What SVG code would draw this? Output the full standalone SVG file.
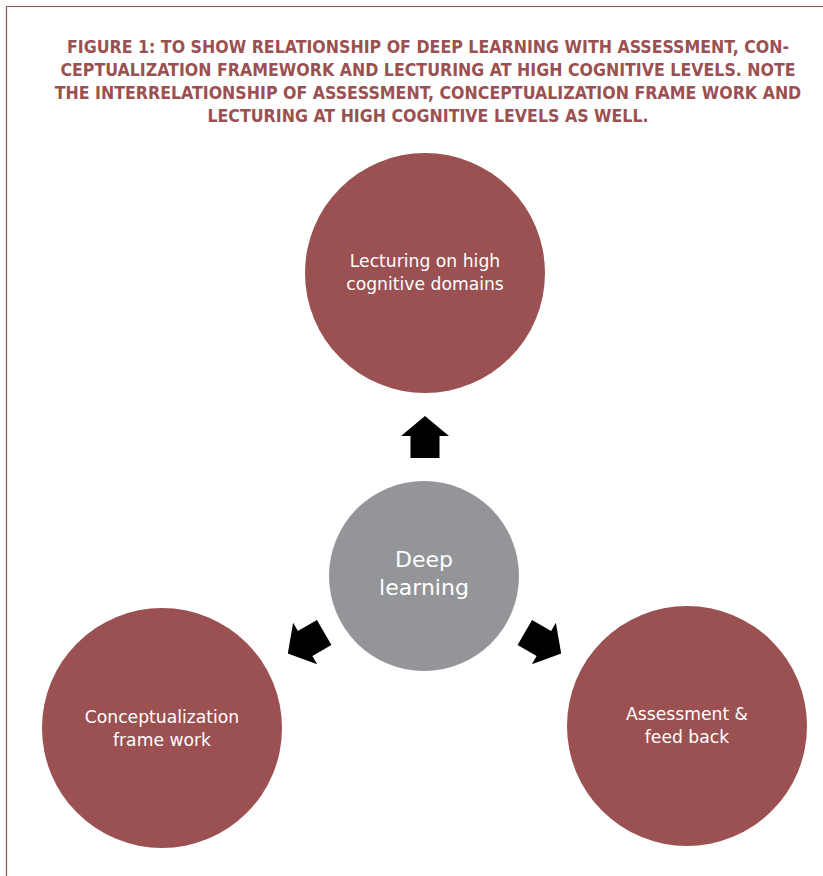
<svg xmlns="http://www.w3.org/2000/svg" width="823" height="876" viewBox="0 0 823 876">
  <style>
    .title { font-family: "DejaVu Sans Condensed", "DejaVu Sans", sans-serif; font-weight: bold; font-size: 17.6px; fill: #9b5052; text-anchor: middle; }
    .lbl { font-family: "DejaVu Sans", sans-serif; font-size: 17.2px; fill: #ffffff; text-anchor: middle; }
    .big { font-family: "DejaVu Sans", sans-serif; font-size: 22px; fill: #ffffff; text-anchor: middle; }
    .red { fill: #9b5051; }
    .grey { fill: #939598; }
    .arrow { fill: #000000; }
  </style>
  <defs>
    <path id="blockArrow" d="M0,-21 L24,-1 L14.5,-1 L14.5,21 L-14.5,21 L-14.5,-1 L-24,-1 Z"/>
  </defs>
  <rect width="823" height="876" fill="#ffffff"/>
  <!-- frame -->
  <path d="M6.5,876 L6.5,6.5 L823,6.5" fill="none" stroke="#9b5052" stroke-width="1.2"/>

  <g id="title">
    <text class="title" x="428" y="53">FIGURE 1: TO SHOW RELATIONSHIP OF DEEP LEARNING WITH ASSESSMENT, CON-</text>
    <text class="title" x="428" y="76">CEPTUALIZATION FRAMEWORK AND LECTURING AT HIGH COGNITIVE LEVELS. NOTE</text>
    <text class="title" x="428" y="99">THE INTERRELATIONSHIP OF ASSESSMENT, CONCEPTUALIZATION FRAME WORK AND</text>
    <text class="title" x="428" y="122">LECTURING AT HIGH COGNITIVE LEVELS AS WELL.</text>
  </g>

  <g id="lecturing">
    <circle class="red" cx="425" cy="273" r="120"/>
    <text class="lbl" x="425" y="267">Lecturing on high</text>
    <text class="lbl" x="425" y="290">cognitive domains</text>
  </g>

  <g id="deep-learning">
    <circle class="grey" cx="424" cy="576" r="95"/>
    <text class="big" x="424" y="567">Deep</text>
    <text class="big" x="424" y="595">learning</text>
  </g>

  <g id="conceptualization">
    <circle class="red" cx="162" cy="728" r="120"/>
    <text class="lbl" x="162" y="723">Conceptualization</text>
    <text class="lbl" x="162" y="746">frame work</text>
  </g>

  <g id="assessment">
    <circle class="red" cx="687" cy="726" r="120"/>
    <text class="lbl" x="687" y="720">Assessment &amp;</text>
    <text class="lbl" x="687" y="743">feed back</text>
  </g>

  <g id="connectors">
    <use href="#blockArrow" class="arrow" transform="translate(425,437)"/>
    <use href="#blockArrow" class="arrow" transform="translate(306,643) rotate(-120)"/>
    <use href="#blockArrow" class="arrow" transform="translate(543,643) rotate(120)"/>
  </g>
</svg>
